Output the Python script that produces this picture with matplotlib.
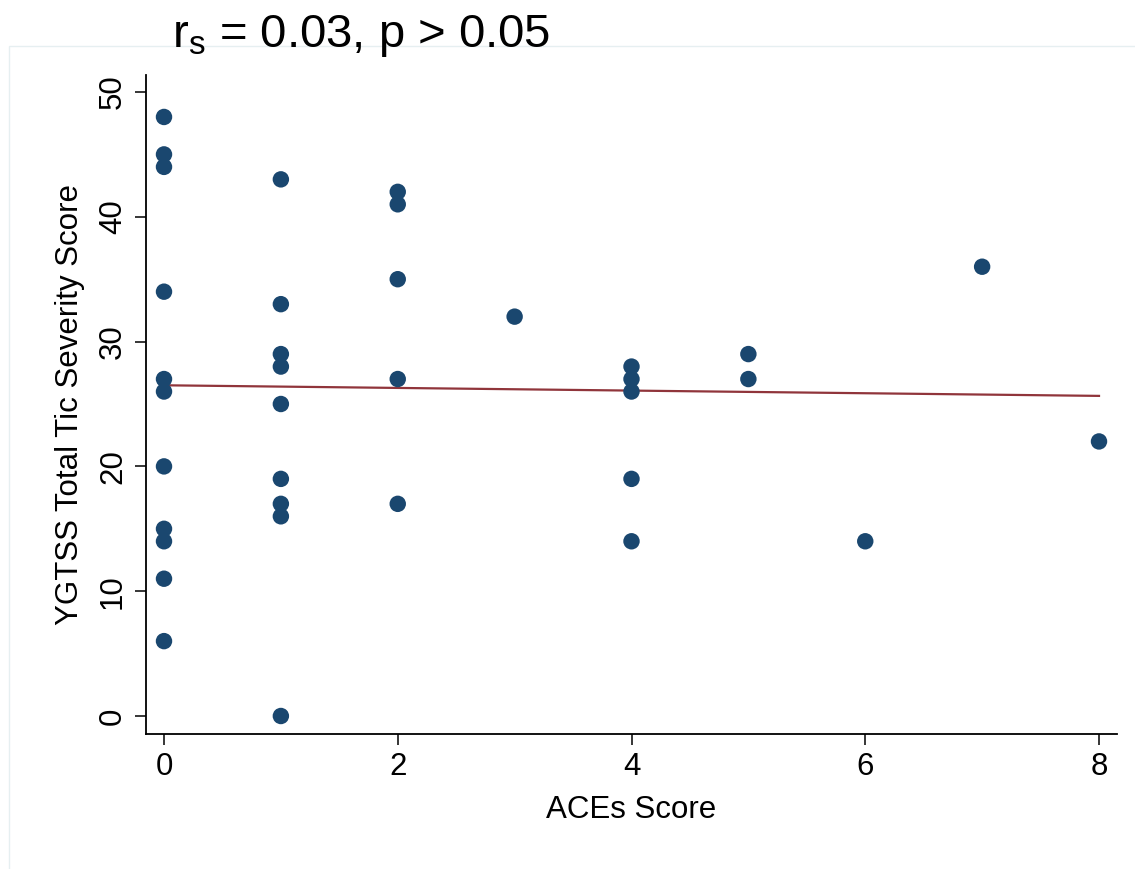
import matplotlib
matplotlib.use("Agg")
import matplotlib.pyplot as plt
from matplotlib.patches import Rectangle

plt.rcParams['font.family'] = ['Liberation Sans', 'DejaVu Sans']
plt.rcParams['mathtext.fontset'] = 'custom'
plt.rcParams['mathtext.rm'] = 'Liberation Sans'
plt.rcParams['mathtext.it'] = 'Liberation Sans:italic'

# Data
aces = [0]*11 + [1]*9 + [2]*5 + [3] + [4]*5 + [5]*2 + [6] + [7] + [8]
ygtss = [48, 45, 44, 34, 27, 26, 20, 15, 14, 11, 6,
         43, 33, 29, 28, 25, 19, 17, 16, 0,
         42, 41, 35, 27, 17,
         32,
         28, 27, 26, 19, 14,
         29, 27,
         14,
         36,
         22]
fit_x = [0, 8]
fit_y = [26.5, 25.65]
x_ticks = [0, 2, 4, 6, 8]
y_ticks = [0, 10, 20, 30, 40, 50]

W, H = 1135, 869
fig = plt.figure(figsize=(W/100, H/100), dpi=100)
fig.patch.set_facecolor('white')

# faint graph-region border
fig.patches.append(Rectangle((9/W, -0.01), 1.2, 1 - 46/H + 0.01, transform=fig.transFigure,
                             fill=False, edgecolor='#e6eff1', linewidth=1.0))

ax = fig.add_axes([146/W, 1 - 734/H, (1117-146)/W, (734-75)/H])
ax.set_xlim(-18/116.9, 8 + 18/116.9)
ax.set_ylim(-18/12.48, 50 + 17/12.48)

ax.plot(fit_x, fit_y, color='#90353b', linewidth=1.6, zorder=2)
ax.scatter(aces, ygtss, s=140, color='#1a476f', edgecolors='none', zorder=3)

for side in ['top', 'right']:
    ax.spines[side].set_visible(False)
for side in ['left', 'bottom']:
    ax.spines[side].set_linewidth(1.3)
    ax.spines[side].set_color('black')

ax.set_xticks(x_ticks)
ax.set_yticks(y_ticks)
ax.tick_params(axis='both', direction='out', length=8, width=1.1, labelsize=22.5, colors='black')
ax.tick_params(axis='x', pad=5)
ax.tick_params(axis='y', pad=5)
for lbl in ax.get_yticklabels():
    lbl.set_rotation(90)
    lbl.set_va('center')

ax.set_xlabel('ACEs Score', fontsize=22.5, labelpad=9)
ax.set_ylabel('YGTSS Total Tic Severity Score', fontsize=22.5, labelpad=9)

fig.text(172/W, 1 - 47/H, r'r$_\mathregular{s}$ = 0.03, p > 0.05', fontsize=34,
         ha='left', va='baseline')

fig.savefig('out.png', dpi=100)
